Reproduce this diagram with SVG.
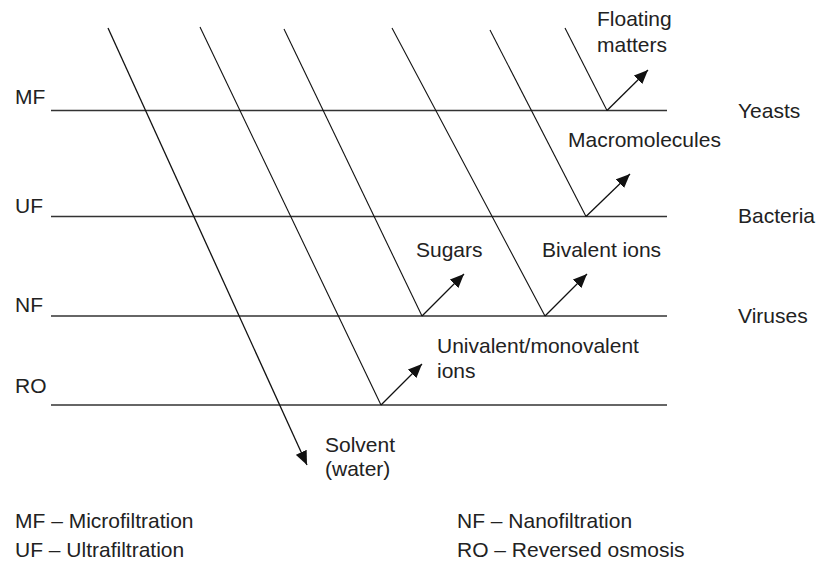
<svg xmlns="http://www.w3.org/2000/svg" width="817" height="565" viewBox="0 0 817 565">
<style>
text{font-family:"Liberation Sans",Arial,sans-serif;font-size:21px;fill:#222}
.lvl{stroke:#333;stroke-width:1.6;fill:none}
.d{stroke:#111;stroke-width:1.1;fill:none}
.a{stroke:#111;stroke-width:1.3;fill:none;marker-end:url(#ah)}
</style>
<defs>
<marker id="ah" markerUnits="userSpaceOnUse" markerWidth="16" markerHeight="12" refX="14" refY="6" orient="auto">
<path d="M0,0 L14,6 L0,12 Z" fill="#111"/>
</marker>
</defs>
<rect width="817" height="565" fill="#fff"/>
<g id="levels">
<g id="MF"><text x="15" y="104">MF</text><line class="lvl" x1="51" y1="110.5" x2="667" y2="110.5"/></g>
<g id="UF"><text x="15" y="213">UF</text><line class="lvl" x1="51" y1="216.5" x2="667" y2="216.5"/></g>
<g id="NF"><text x="15" y="312">NF</text><line class="lvl" x1="51" y1="316" x2="667" y2="316"/></g>
<g id="RO"><text x="15" y="393">RO</text><line class="lvl" x1="51" y1="405" x2="667" y2="405"/></g>
</g>
<g id="connectors">
<line class="a" x1="108" y1="28" x2="307" y2="465"/>
<line class="d" x1="200" y1="27" x2="381" y2="405"/>
<line class="a" x1="381" y1="405" x2="422" y2="364"/>
<line class="d" x1="284" y1="29" x2="422" y2="316"/>
<line class="a" x1="422" y1="316" x2="464" y2="274"/>
<line class="d" x1="392" y1="28" x2="545" y2="316"/>
<line class="a" x1="545" y1="316" x2="587" y2="274"/>
<line class="d" x1="490" y1="30" x2="586" y2="216.5"/>
<line class="a" x1="586" y1="216.5" x2="630" y2="174"/>
<line class="d" x1="565" y1="28" x2="607" y2="110.5"/>
<line class="a" x1="607" y1="110.5" x2="648" y2="70"/>
</g>
<g id="floating"><text x="597" y="26">Floating</text><text x="597" y="52">matters</text></g>
<g id="yeasts"><text x="738" y="118">Yeasts</text></g>
<g id="macromolecules"><text x="568" y="147">Macromolecules</text></g>
<g id="bacteria"><text x="738" y="223">Bacteria</text></g>
<g id="sugars"><text x="416" y="257">Sugars</text></g>
<g id="bivalent"><text x="542" y="257">Bivalent ions</text></g>
<g id="viruses"><text x="738" y="323">Viruses</text></g>
<g id="univalent"><text x="437" y="353">Univalent/monovalent</text><text x="437" y="378">ions</text></g>
<g id="solvent"><text x="325" y="452">Solvent</text><text x="325" y="476">(water)</text></g>
<g id="legend">
<text x="15" y="528">MF – Microfiltration</text>
<text x="15" y="557">UF – Ultrafiltration</text>
<text x="457" y="528">NF – Nanofiltration</text>
<text x="457" y="557">RO – Reversed osmosis</text>
</g>
</svg>
